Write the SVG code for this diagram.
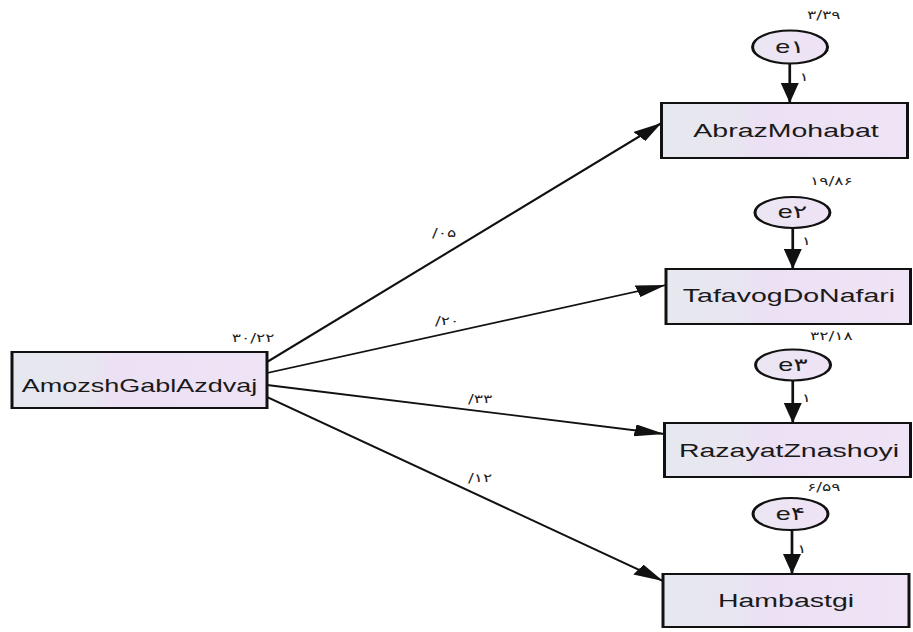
<svg xmlns="http://www.w3.org/2000/svg" width="913" height="632" viewBox="0 0 913 632">
<style>
.box{stroke:#111;stroke-width:2;fill:url(#gb)}
.ell{stroke:#111;stroke-width:2;fill:url(#ge)}
.lbl{font-family:"Liberation Sans",Arial,"DejaVu Sans",sans-serif;font-size:19px;fill:#1a1a1a;text-anchor:middle}
.num{font-family:"DejaVu Sans","Liberation Sans",sans-serif;font-size:11.5px;fill:#222;unicode-bidi:bidi-override;direction:ltr}
.ev{font-family:"Liberation Sans","DejaVu Sans",sans-serif;font-size:18px;fill:#1a1a1a;text-anchor:middle;unicode-bidi:bidi-override;direction:ltr}
.con{stroke:#111;stroke-width:1.8;fill:none;marker-end:url(#ah)}
</style>
<defs>
<linearGradient id="gb" x1="0" y1="0" x2="1" y2="0">
<stop offset="0" stop-color="#e6e8ef"/>
<stop offset="0.3" stop-color="#e8e6f0"/>
<stop offset="0.4" stop-color="#ece0f4"/>
<stop offset="1" stop-color="#efe3f6"/>
</linearGradient>
<linearGradient id="ge" x1="0" y1="0" x2="1" y2="0">
<stop offset="0" stop-color="#ebe6f2"/>
<stop offset="1" stop-color="#efe2f6"/>
</linearGradient>
<marker id="ah" viewBox="0 -6 20 12" refX="20" refY="0" markerWidth="20" markerHeight="12" markerUnits="userSpaceOnUse" orient="auto">
<path d="M0,-6 L20,0 L0,6 z" fill="#111"/>
</marker>
</defs>
<rect width="913" height="632" fill="#fff"/>
<g transform="scale(1.5 1)">
<g id="connectors">
<line class="con" x1="178" y1="362" x2="441" y2="123"/>
<line class="con" x1="178" y1="373" x2="444" y2="285"/>
<line class="con" x1="178" y1="385" x2="443" y2="434"/>
<line class="con" x1="178" y1="397" x2="442" y2="581"/>
<line class="con" x1="526.5" y1="63" x2="526.5" y2="103"/>
<line class="con" x1="528.5" y1="227.5" x2="528.5" y2="269"/>
<line class="con" x1="528.5" y1="380" x2="528.5" y2="423"/>
<line class="con" x1="528" y1="530" x2="528" y2="574"/>
<text class="num" x="288" y="237">/۰۵</text>
<text class="num" x="290" y="325">/۲۰</text>
<text class="num" x="312" y="403">/۳۳</text>
<text class="num" x="312" y="482">/۱۲</text>
<text class="num" x="533" y="81">۱</text>
<text class="num" x="534.5" y="245">۱</text>
<text class="num" x="534.5" y="402">۱</text>
<text class="num" x="531.5" y="553">۱</text>
</g>
<g id="AmozshGablAzdvaj">
<rect class="box" x="8" y="352" width="170" height="56"/>
<text class="lbl" x="93" y="392" style="font-size:18px">AmozshGablAzdvaj</text>
<text class="num" x="183" y="342" text-anchor="end">۳۰/۲۲</text>
</g>
<g id="AbrazMohabat">
<rect class="box" x="441" y="103" width="164" height="55"/>
<text class="lbl" x="524" y="137">AbrazMohabat</text>
</g>
<g id="TafavogDoNafari">
<rect class="box" x="444" y="269" width="163" height="55"/>
<text class="lbl" x="526" y="302">TafavogDoNafari</text>
</g>
<g id="RazayatZnashoyi">
<rect class="box" x="443" y="423" width="164" height="54"/>
<text class="lbl" x="526" y="457">RazayatZnashoyi</text>
</g>
<g id="Hambastgi">
<rect class="box" x="442" y="574" width="164" height="53"/>
<text class="lbl" x="524" y="607">Hambastgi</text>
</g>
<g id="e1">
<ellipse class="ell" cx="526.7" cy="47" rx="25" ry="16.5"/>
<text class="ev" x="526.7" y="53">e۱</text>
<text class="num" x="538" y="19">۳/۳۹</text>
</g>
<g id="e2">
<ellipse class="ell" cx="528.3" cy="212.5" rx="25" ry="15.5"/>
<text class="ev" x="528.3" y="218.5">e۲</text>
<text class="num" x="540" y="185">۱۹/۸۶</text>
</g>
<g id="e3">
<ellipse class="ell" cx="528.7" cy="365" rx="25" ry="15.5"/>
<text class="ev" x="528.7" y="371">e۳</text>
<text class="num" x="540" y="340">۳۲/۱۸</text>
</g>
<g id="e4">
<ellipse class="ell" cx="527" cy="514" rx="25" ry="16"/>
<text class="ev" x="527" y="520">e۴</text>
<text class="num" x="538" y="491">۶/۵۹</text>
</g>
</g>
</svg>
